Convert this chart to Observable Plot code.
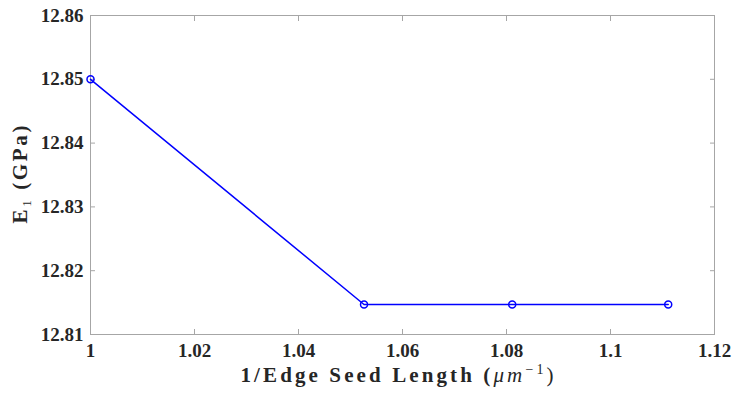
<!DOCTYPE html>
<html>
<head>
<meta charset="utf-8">
<script src="https://cdn.jsdelivr.net/npm/d3@7"></script>
<script src="https://cdn.jsdelivr.net/npm/@observablehq/plot@0.6"></script>
<style>
  html, body { margin: 0; padding: 0; background: #fff; }
  #chart svg { display: block; }
</style>
</head>
<body>
<div id="chart"></div>
<script>
const seedInv = [1.0, 1.0526, 1.0811, 1.1111];
const modulusE1 = [12.85, 12.8147, 12.8147, 12.8147];
const xTicks = [1, 1.02, 1.04, 1.06, 1.08, 1.1, 1.12];
const yTicks = [12.81, 12.82, 12.83, 12.84, 12.85, 12.86];

const data = seedInv.map((x, i) => ({x, y: modulusE1[i]}));
const font = "Liberation Serif";
const frameColor = "#a6a6a6";
const txt = {fontFamily: font, fontSize: 19, fontWeight: "bold"};

const plot = Plot.plot({
  width: 733,
  height: 393,
  marginLeft: 90,
  marginRight: 19,
  marginTop: 15,
  marginBottom: 59,
  style: {background: "#fff"},
  x: {domain: [1, 1.12], ticks: xTicks, label: null},
  y: {domain: [12.81, 12.86], ticks: yTicks, label: null},
  marks: [
    Plot.frame({stroke: frameColor}),
    Plot.axisX(xTicks, {anchor: "bottom", tickSize: -5, tickPadding: 14, stroke: frameColor, fill: "#262626",
      tickFormat: d => String(+d.toFixed(2)), label: null, ...txt}),
    Plot.axisX(xTicks, {anchor: "top", tickSize: -5, stroke: frameColor, tickFormat: () => "", label: null}),
    Plot.axisY(yTicks, {anchor: "left", tickSize: -5, tickPadding: 12, stroke: frameColor, fill: "#262626",
      tickFormat: d3.format(".2f"), label: null, ...txt}),
    Plot.axisY(yTicks, {anchor: "right", tickSize: -5, stroke: frameColor, tickFormat: () => "", label: null}),
    Plot.line(data, {x: "x", y: "y", stroke: "#0000ff", strokeWidth: 1.5}),
    Plot.dot(data, {x: "x", y: "y", r: 3.5, stroke: "#0000ff", strokeWidth: 1.5, fill: "none"})
  ]
});

const svg = d3.select(plot);
// x-axis title
const xl = svg.append("text")
  .attr("x", 397).attr("y", 382)
  .attr("text-anchor", "middle")
  .attr("font-family", font).attr("font-size", 21).attr("font-weight", "bold")
  .attr("textLength", 313).attr("lengthAdjust", "spacing")
  .attr("fill", "#262626");
xl.append("tspan").text("1/Edge Seed Length (");
xl.append("tspan").attr("font-style", "italic").attr("font-weight", "normal").text("μm");
xl.append("tspan").attr("font-weight", "normal").attr("font-size", 14).attr("dy", -8).text("−1");
xl.append("tspan").attr("font-weight", "normal").attr("dy", 8).text(")");

// y-axis title
const yl = svg.append("text")
  .attr("transform", "translate(27,174.5) rotate(-90)")
  .attr("text-anchor", "middle")
  .attr("font-family", font).attr("font-size", 21).attr("font-weight", "bold")
  .attr("textLength", 98).attr("lengthAdjust", "spacing")
  .attr("fill", "#262626");
yl.append("tspan").text("E");
yl.append("tspan").attr("font-size", 13).attr("font-weight", "normal").attr("dy", 4).text("1");
yl.append("tspan").attr("dy", -4).text(" (GPa)");

document.getElementById("chart").appendChild(plot);
</script>
</body>
</html>
